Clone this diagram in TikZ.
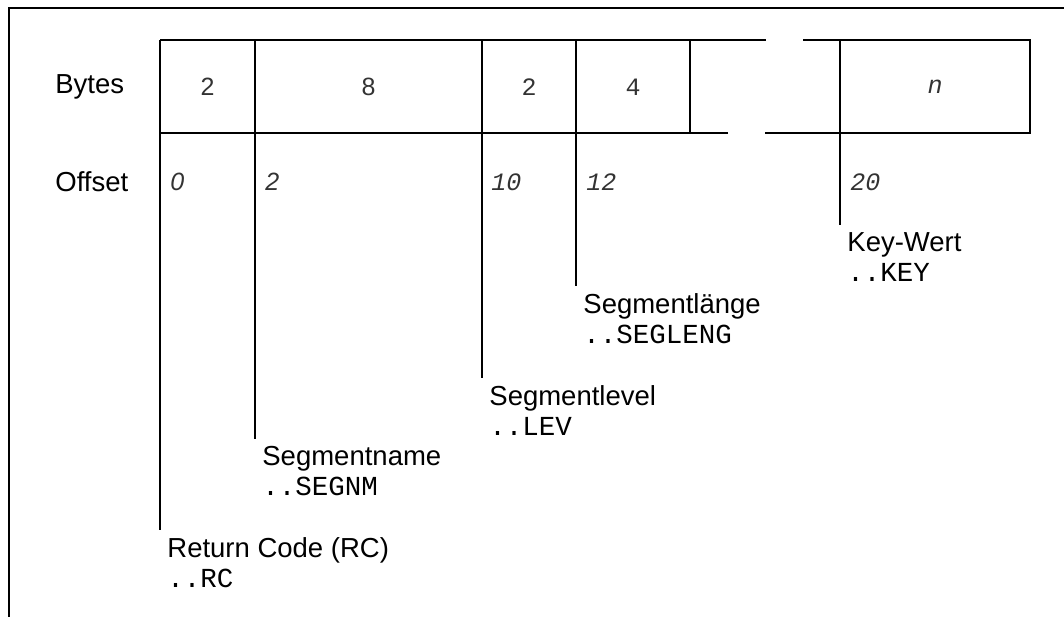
\documentclass[tikz,border=0pt]{standalone}
\usepackage{fontspec}
\setmainfont{Liberation Sans}
\setmonofont{Liberation Mono}
\usetikzlibrary{positioning,calc}
\definecolor{ink}{HTML}{000000}
\definecolor{digit}{HTML}{333333}

\begin{document}
\begin{tikzpicture}[x=0.5pt,y=-0.5pt,
  frame/.style={ink,line width=1.25pt},
  rowlbl/.style={anchor=west,inner sep=0pt,font=\fontsize{13.75}{15}\selectfont},
  cell/.style={inner sep=0pt,text=digit,font=\fontsize{12.5}{15}\selectfont},
  offs/.style={cell,anchor=west,font=\fontsize{12.5}{15}\selectfont\itshape},
  fieldlbl/.style={anchor=north west,align=left,inner sep=0pt,font=\fontsize{13.75}{15}\selectfont}]
  \path[use as bounding box,clip] (0,0) rectangle (1064,616);
  \draw[frame] (9,8) rectangle (1100,660);
  \draw[frame] (160,40) -- (766,40) (803,40) -- (1030,40) -- (1030,133) -- (765,133) (728,133) -- (160,133);
  \draw[frame] (690,40) -- (690,133);
  \node[rowlbl] (bytes) at (55,87) {Bytes};
  \node[rowlbl] (offset) at (55,182) {Offset};
  \foreach \x/\e/\name/\title/\code in {160/530/rc/Return Code (RC)/RC,255/439/nm/Segmentname/SEGNM,482/378/lev/Segmentlevel/LEV,576/286/len/Segmentlänge/SEGLENG,840/225/key/Key-Wert/KEY}
     {\coordinate (\name top) at (\x,40);
      \coordinate (\name end) at (\x,\e);
      \draw[frame] (\name top) -- (\name end);
      \node[fieldlbl] (\name) at ($(\name end)+(7,7)$) {\title\\\texttt{..\code}};}
  \node[cell] (brc) at (207.5,87) {2};
  \node[cell] (bnm) at (368.5,87) {8};
  \node[cell,font=\fontsize{12.5}{15}\ttfamily] (blev) at (529,87) {2};
  \node[cell,font=\fontsize{12.5}{15}\ttfamily] (blen) at (633,87) {4};
  \node[cell,font=\fontsize{12.5}{15}\ttfamily\itshape] (bkey) at (935,87) {n};
  \node[offs] (orc) at (170,182) {0};
  \node[offs] (onm) at (265,182) {2};
  \node[offs,font=\fontsize{12.5}{15}\ttfamily\itshape] (olev) at (491,182) {10};
  \node[offs,font=\fontsize{12.5}{15}\ttfamily\itshape] (olen) at (586,182) {12};
  \node[offs,font=\fontsize{12.5}{15}\ttfamily\itshape] (okey) at (850,182) {20};
\end{tikzpicture}
\end{document}
